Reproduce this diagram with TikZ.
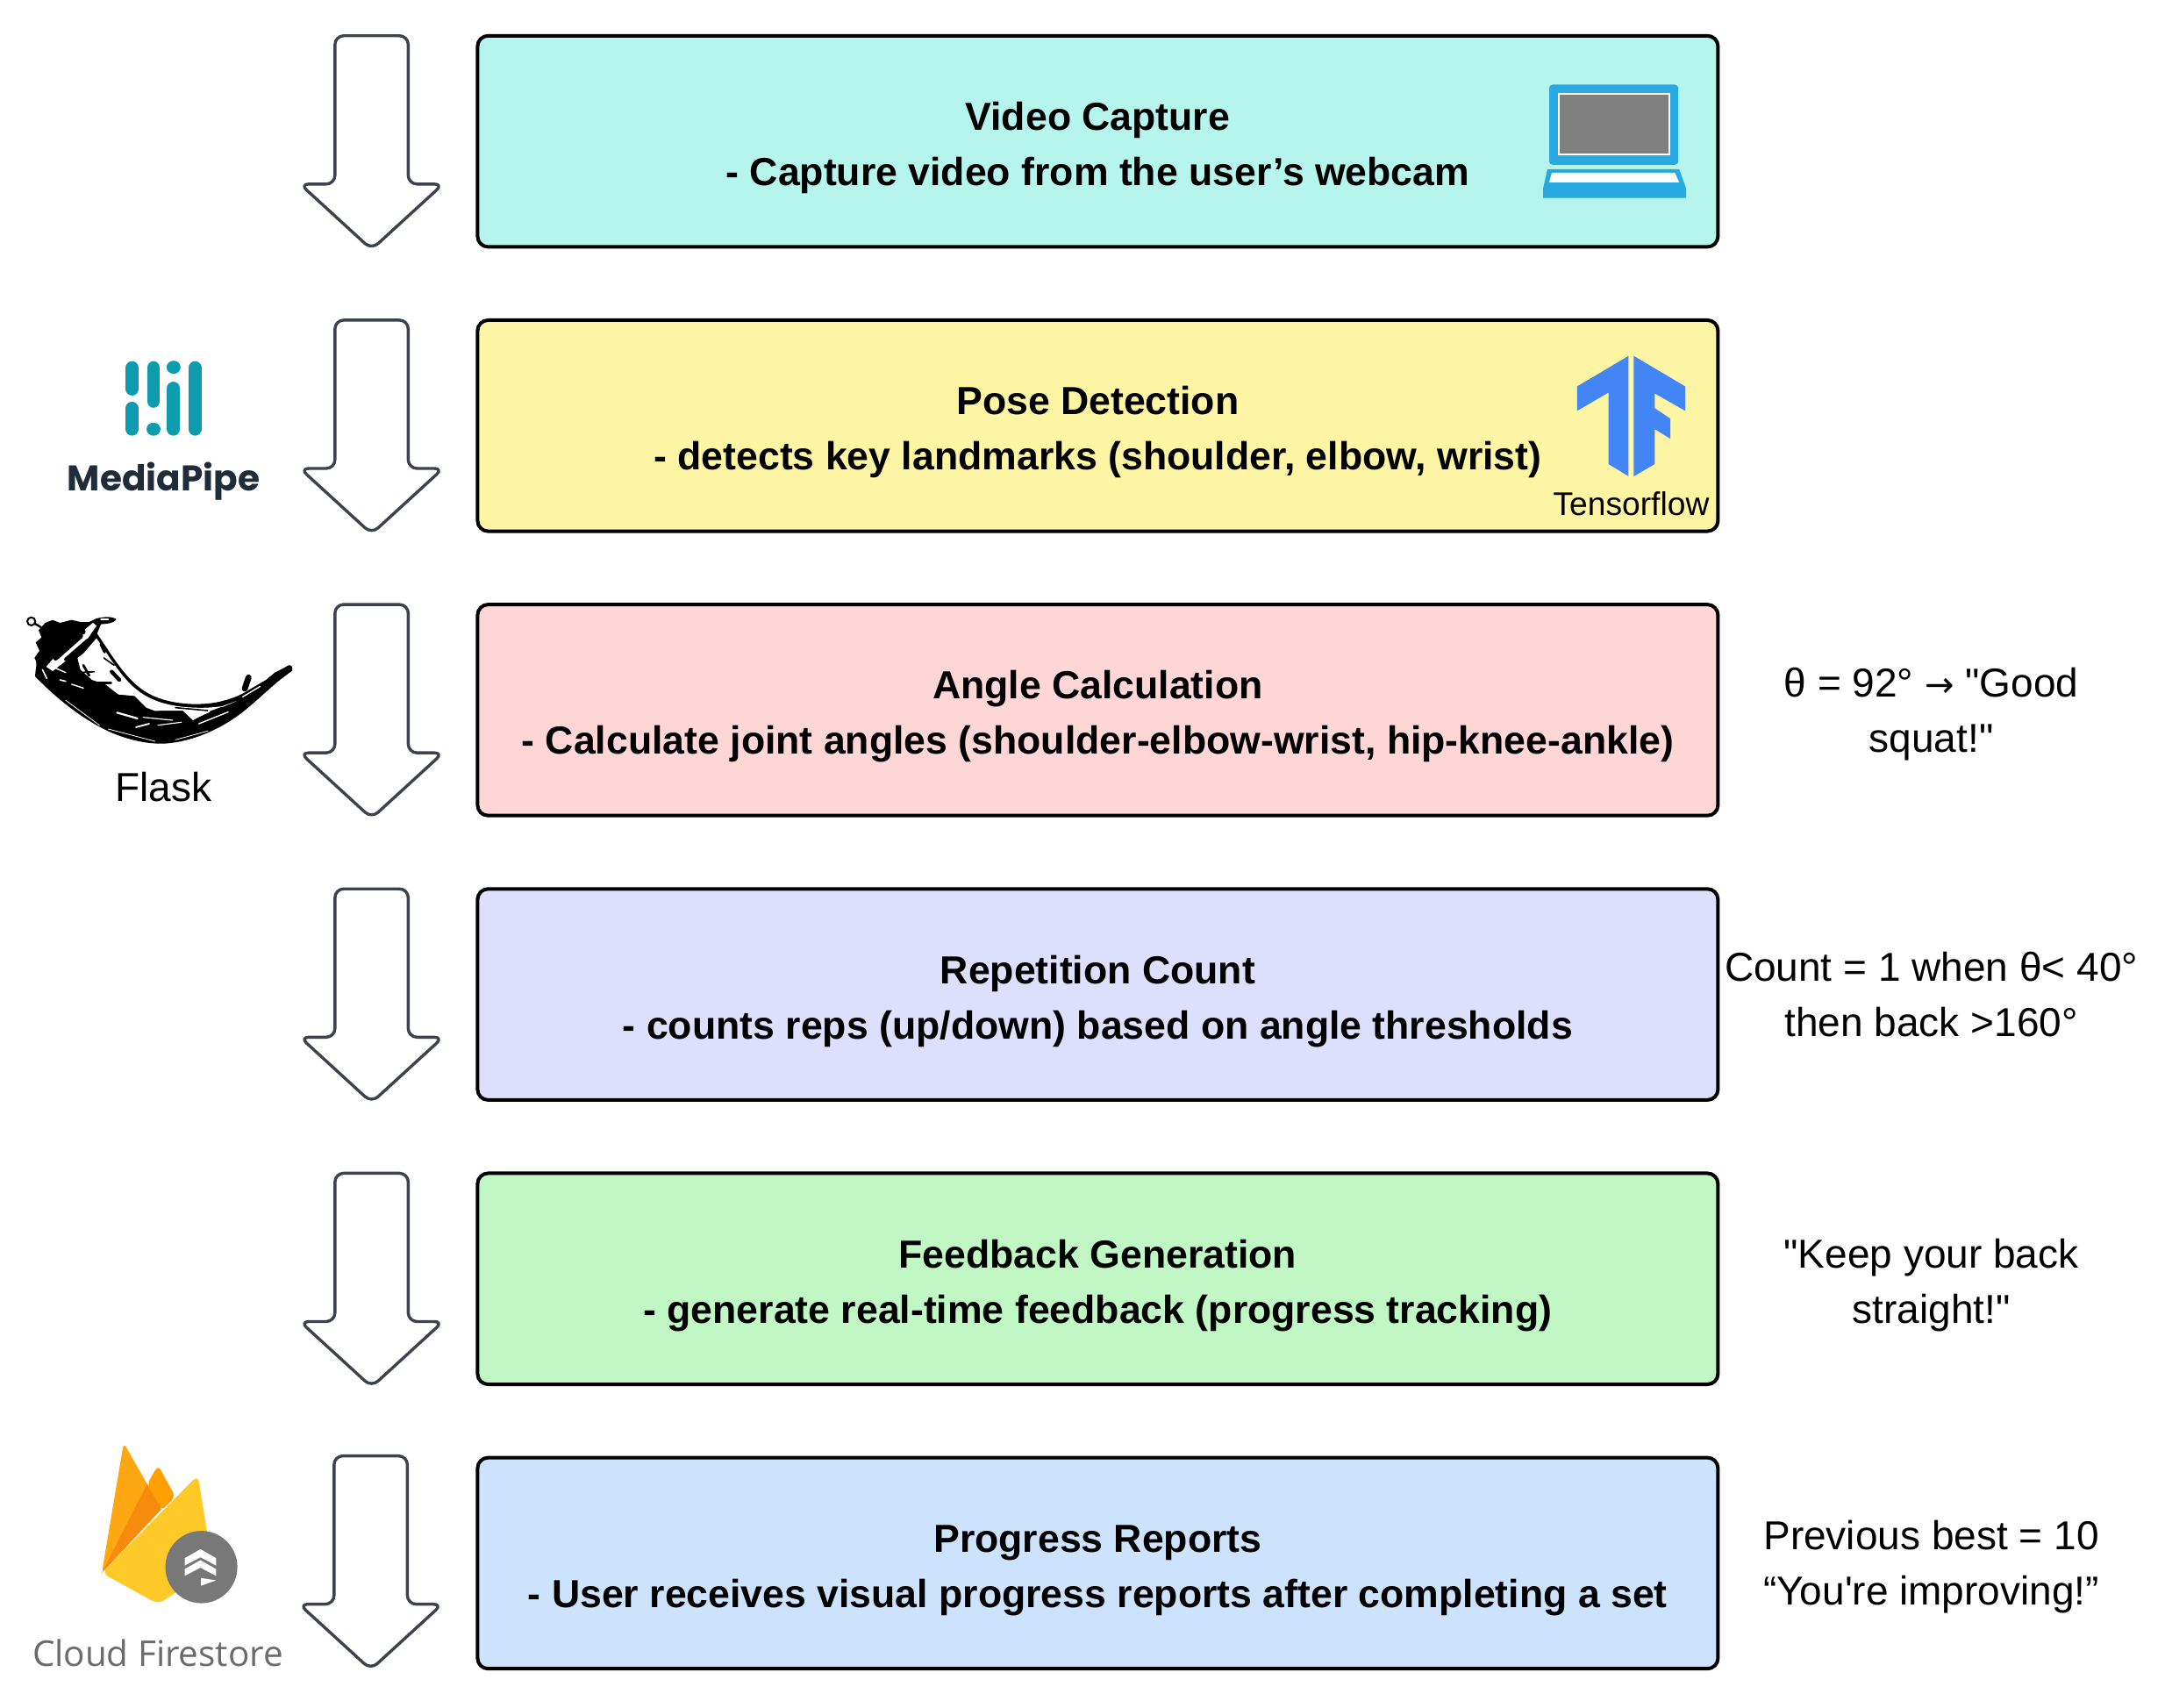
\documentclass[tikz,border=0pt]{standalone}
\usepackage{fontspec}
\newfontfamily\rf{Liberation Sans}
\newfontfamily\lf{Poppins}
\newfontfamily\of{Open Sans}
\newfontfamily\df{DejaVu Sans}
\definecolor{cyanbox}{HTML}{B6F5EC}
\definecolor{yellowbox}{HTML}{FEF5A4}
\definecolor{pinkbox}{HTML}{FFD6D6}
\definecolor{lavbox}{HTML}{DEDFFD}
\definecolor{greenbox}{HTML}{C1F7C4}
\definecolor{bluebox}{HTML}{CCE2FD}
\definecolor{arrowline}{HTML}{3D424C}
\definecolor{laptopblue}{HTML}{29A9E1}
\definecolor{tfblue}{HTML}{4285F4}
\definecolor{mpteal}{HTML}{0F9BAE}
\definecolor{mpdark}{HTML}{1F2D3A}
\definecolor{fbA}{HTML}{FFA712}
\definecolor{fbB}{HTML}{FFA000}
\definecolor{fbC}{HTML}{F68C0B}
\definecolor{fbD}{HTML}{FFCA28}
\newcommand{\lineup}{\rule[-6pt]{0pt}{31pt}}
\newcommand{\linedn}{\rule[-6pt]{0pt}{20pt}}
\newcommand{\flowarrow}[2]{\draw[flowarrowline,shift={(#1,#2)}] (-42,0) -- (42,0) -- (42,170) -- (82,170) -- (0,245) -- (-82,170) -- (-42,170) -- cycle;}
\tikzset{
  stepbox/.style={draw=black,line width=2pt,rounded corners=6pt,minimum width=707pt,minimum height=120.3pt,
    inner sep=0pt,outer sep=0pt,align=center,font=\rf\bfseries\fontsize{22.3}{31.5}\selectfont},
  flowarrowline/.style={draw=arrowline,fill=white,line width=1.7pt,rounded corners=5pt,line join=round},
  sidetext/.style={align=center,font=\rf\fontsize{23}{31.5}\selectfont,inner sep=0pt},
  logotext/.style={align=center,inner sep=0pt},
  bar/.style={line cap=round,line width=7.4pt,draw=mpteal},
  inkw/.style={draw=white,line cap=round},
  inkb/.style={draw=black,line cap=round}
}
\begin{document}
\begin{tikzpicture}[x=0.4972pt,y=-0.4972pt]
\useasboundingbox (0,0) rectangle (2482,1958);
\fill[white] (0,0) rectangle (2482,1958);

% step boxes
\node[stepbox,fill=cyanbox]  (s1) at (1258.5,162) {\lineup Video Capture\\\linedn - Capture video from the user’s webcam};
\node[stepbox,fill=yellowbox](s2) at (1258.5,488) {\lineup Pose Detection\\\linedn - detects key landmarks (shoulder, elbow, wrist)};
\node[stepbox,fill=pinkbox]  (s3) at (1258.5,814) {\lineup Angle Calculation\\\linedn - Calculate joint angles (shoulder-elbow-wrist, hip-knee-ankle)};
\node[stepbox,fill=lavbox]   (s4) at (1258.5,1140) {\lineup Repetition Count\\\linedn - counts reps (up/down) based on angle thresholds};
\node[stepbox,fill=greenbox] (s5) at (1258.5,1466) {\lineup Feedback Generation\\\linedn - generate real-time feedback (progress tracking)};
\node[stepbox,fill=bluebox]  (s6) at (1258.5,1792) {\lineup Progress Reports\\\linedn - User receives visual progress reports after completing a set};

% block arrows
\flowarrow{426}{41}
\flowarrow{426}{367}
\flowarrow{426}{693}
\flowarrow{426}{1019}
\flowarrow{426}{1345}
\flowarrow{425}{1669}

% side texts
\node[sidetext] (t3) at (2214,819) {θ = 92° {\df\fontsize{20}{31.5}\selectfont →} "Good\\squat!"};
\node[sidetext] (t4) at (2214,1140) {Count = 1 when θ< 40°\\then back >160°};
\node[sidetext] (t5) at (2214,1473) {"Keep your back\\straight!"};
\node[sidetext] (t6) at (2214,1796) {Previous best = 10\\“You're improving!”};

% laptop icon
\begin{scope}
  \fill[laptopblue,rounded corners=2pt] (1776,97) rectangle (1924,189);
  \fill[white] (1786,107) rectangle (1915,178);
  \fill[gray] (1788,109) rectangle (1913,176);
  \fill[laptopblue] (1774,194) -- (1925,194) -- (1933,216) -- (1933,227) -- (1769,227) -- (1769,216) -- cycle;
  \fill[white] (1779,198) -- (1920,198) -- (1925,209) -- (1776,209) -- cycle;
\end{scope}

% tensorflow icon
\fill[tfblue] (1867,408) -- (1808,443) -- (1808,471) -- (1844,450) -- (1844,532) -- (1867,546) -- cycle;
\fill[tfblue] (1873,408) -- (1932,443) -- (1932,471) -- (1897,451) -- (1897,468) -- (1915,480) -- (1915,503) -- (1897,492) -- (1897,532) -- (1873,546) -- cycle;
\node[logotext,font=\rf\fontsize{18.6}{20}\selectfont] (tf) at (1870,577) {Tensorflow};

% mediapipe icon
\begin{scope}
  \draw[bar] (151.5,421.5) -- (151.5,446);
  \draw[bar] (151.5,468) -- (151.5,492);
  \draw[bar] (176,421.5) -- (176,460);
  \fill[mpteal] (176,492) ellipse (8 and 7.5);
  \fill[mpteal] (199,421) ellipse (8 and 7.5);
  \draw[bar] (199,445) -- (199,492);
  \draw[bar] (223.5,421.5) -- (223.5,492);
\end{scope}
\node[logotext,text=mpdark,font=\lf\bfseries\fontsize{20.3}{22}\selectfont] (mp) at (187.5,552) {MediaPipe};

% flask horn (drawn in local units of the horn)
\begin{scope}[x=0.16667pt,y=-0.16667pt,shift={(10pt,-347.5pt)}]
  \fill[black] (60,228) .. controls (62,195) and (70,180) .. (58,165) -- (75,140) -- (62,112) -- (82,95) -- (72,70)
     -- (95,45) -- (120,35) -- (145,45) -- (185,35) -- (215,42) -- (245,42) -- (270,30)
     .. controls (295,24) and (325,22) .. (338,33) .. controls (330,47) and (305,48) .. (285,50)
     -- (272,82)
     .. controls (320,150) and (370,245) .. (450,288)
     .. controls (520,325) and (620,330) .. (690,315)
     .. controls (730,305) and (760,295) .. (790,275)
     -- (850,240) -- (880,215) -- (930,190) -- (940,208) -- (900,238)
     .. controls (860,270) and (820,310) .. (770,350)
     .. controls (700,405) and (610,445) .. (530,455)
     .. controls (470,465) and (390,450) .. (320,420)
     .. controls (220,375) and (130,300) .. (60,228) -- cycle;
  % light body of the horn
  \fill[white] (270,98) .. controls (318,165) and (368,260) .. (445,298)
     .. controls (510,335) and (620,342) .. (700,330) -- (750,312)
     .. controls (700,335) and (650,350) .. (600,378) -- (565,345) -- (520,345) -- (470,346) -- (440,335) -- (400,295)
     -- (345,290) -- (300,255) -- (255,240) -- (215,205) -- (205,165) -- (225,150) -- cycle;
  % rim band
  \fill[white] (98,195) -- (130,158) -- (215,80) -- (258,45) -- (270,55) -- (222,125) -- (165,175) -- (120,210) -- cycle;
  \fill[black] (222,75) circle (1.8pt);
  \draw[inkb,line width=3pt] (130,165) -- (215,90);
  \draw[inkb,line width=2pt] (165,170) -- (240,105);
  % knob, cap and pegs
  \draw[black,line width=1pt,fill=white] (47,40) circle (2.3pt);
  \draw[inkb,line width=1.2pt] (60,48) -- (80,60);
  \draw[inkw,line width=.7pt] (285,33) -- (310,33);
  \draw[inkb,line width=3.4pt] (777,270) -- (790,232);
  \draw[inkb,line width=3.4pt] (885,228) -- (930,200);
  % black marks on the light body
  \draw[inkb,line width=1.6pt] (285,118) -- (298,145);
  \draw[inkb,line width=2.2pt] (322,212) -- (348,240);
  \draw[inkb,line width=.8pt] (295,165) -- (330,190);
  \draw[inkb,line width=1.4pt] (225,190) -- (245,225);
  \draw[inkb,line width=.9pt] (215,215) -- (262,212);
  \draw[inkb,line width=1.2pt] (260,250) -- (320,250);
  \draw[inkb,line width=3.2pt] (350,312) -- (400,322);
  \draw[inkb,line width=.8pt] (540,335) -- (650,345);
  \draw[inkb,line width=1.1pt] (660,350) -- (700,335);
  % light streaks on the dark belly
  \draw[inkw,line width=.8pt] (85,205) -- (100,235);
  \draw[inkw,line width=.7pt] (130,200) -- (165,215);
  \draw[inkw,line width=.8pt] (145,240) -- (165,245);
  \draw[inkw,line width=.7pt] (185,255) -- (225,268);
  \draw[inkw,line width=.4pt] (165,310) -- (280,395);
  \draw[inkw,line width=.4pt] (310,408) -- (470,450);
  \draw[inkw,line width=.4pt] (540,445) -- (650,415);
  \draw[inkw,line width=1.1pt] (340,352) -- (410,372);
  \draw[inkw,line width=.9pt] (405,402) -- (450,390);
  \draw[inkw,line width=.6pt] (430,368) -- (530,378);
  \draw[inkw,line width=.6pt] (480,395) -- (560,385);
  \draw[inkw,line width=.7pt] (620,390) -- (720,350);
  \draw[inkw,line width=.7pt] (770,298) -- (830,262);
\end{scope}
\node[logotext,font=\rf\fontsize{23}{25}\selectfont] (fl) at (187.5,902) {Flask};

% firebase icon (local units)
\begin{scope}[x=0.1785pt,y=-0.169pt,shift={(0pt,-809.5pt)}]
  \fill[fbB,rounded corners=3pt] (470,215) -- (505,152) -- (560,258) -- (515,305) -- cycle;
  \fill[fbA,rounded corners=3pt] (325,515) -- (395,76) -- (470,215) -- (515,300) -- cycle;
  \fill[fbC] (325,515) -- (470,215) -- (515,300) -- cycle;
  \fill[fbD,rounded corners=4pt] (325,515) -- (632,185) -- (680,500) -- (505,620) -- cycle;
  \fill[black!53] (643,495) ellipse (115 and 122);
  \fill[white] (590,465) -- (640,435) -- (690,465) -- (690,490) -- (640,462) -- (590,490) -- cycle;
  \fill[white] (590,502) -- (640,472) -- (690,502) -- (690,525) -- (640,497) -- (590,525) -- cycle;
  \fill[white] (642,532) -- (690,540) -- (642,558) -- cycle;
\end{scope}
\node[logotext,text=black!58,font=\of\fontsize{20.2}{24}\selectfont] (cf) at (181,1895) {Cloud Firestore};
\end{tikzpicture}
\end{document}
